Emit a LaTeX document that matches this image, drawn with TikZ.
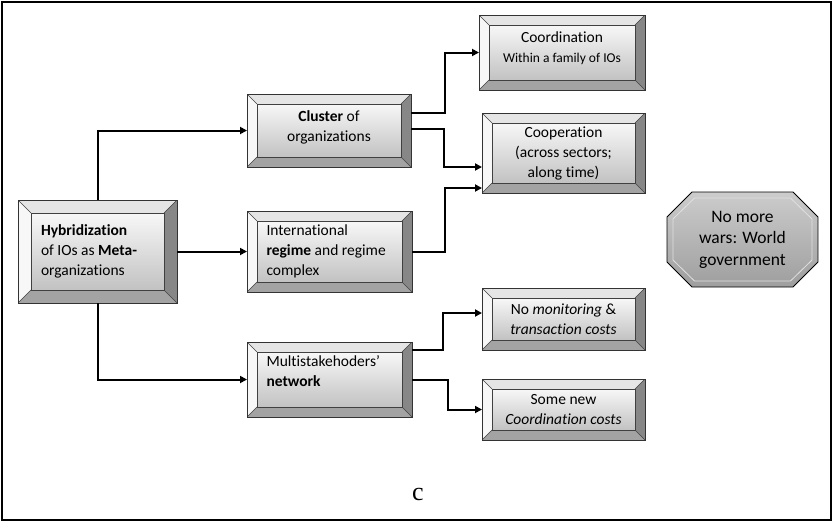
\documentclass[tikz,border=0pt]{standalone}
\usepackage{fontspec}
\usepackage{tikz}
\usetikzlibrary{arrows.meta,backgrounds}
\newfontfamily\calib[Ligatures=NoCommon]{Carlito}
\newfontfamily\timesc{Liberation Serif}

\begin{document}
\begin{tikzpicture}[x=1pt, y=-1pt,
	every node/.style={font=\calib\fontsize{15.5}{20}\selectfont},
	arr/.style={-{Triangle[length=7pt,width=7pt]}, line width=2pt},
	bev/.style={rectangle, draw=black!80, line width=.6pt, align=center, inner sep=0pt, outer sep=0pt,
		path picture={
			\path (path picture bounding box.north west) coordinate (tl) (path picture bounding box.north east) coordinate (tr)
				(path picture bounding box.south west) coordinate (bl) (path picture bounding box.south east) coordinate (br);
			\fill[black!10] (tl) -- (tr) -- ([shift={(-#1,-#1)}]tr) -- ([shift={(#1,-#1)}]tl) -- cycle;
			\fill[black!3] (tl) -- ([shift={(#1,-#1)}]tl) -- ([shift={(#1,#1)}]bl) -- (bl) -- cycle;
			\fill[black!47] (tr) -- (br) -- ([shift={(-#1,#1)}]br) -- ([shift={(-#1,-#1)}]tr) -- cycle;
			\fill[black!36] (bl) -- ([shift={(#1,#1)}]bl) -- ([shift={(-#1,#1)}]br) -- (br) -- cycle;
			\shade[top color=black!3, bottom color=black!24, draw=black!75, line width=.5pt] ([shift={(#1,-#1)}]tl) rectangle ([shift={(-#1,#1)}]br);
			\draw[black!75, line width=.5pt] (tl) -- ([shift={(#1,-#1)}]tl) (tr) -- ([shift={(-#1,-#1)}]tr)
				(bl) -- ([shift={(#1,#1)}]bl) (br) -- ([shift={(-#1,#1)}]br);
		}},
	bev/.default=10pt]
	\useasboundingbox (0,0) rectangle (833,522);
	\draw[line width=2pt] (2,2) rectangle (831,520);

	\node[bev=13pt, minimum width=159pt, minimum height=103pt, text width=113pt, align=flush left] (hyb) at (97.5,251.5) {\textbf{Hybridization}\\of IOs as \textbf{Meta-}\\organizations};
	\node[bev, minimum width=164pt, minimum height=73pt] (cluster) at (329,130.5) {\textbf{Cluster} of\\organizations\\[-12pt]\mbox{}};
	\node[bev, minimum width=165pt, minimum height=81pt, text width=126pt, align=flush left] (regime) at (329.5,251.5) {International\\\textbf{regime} and regime\\complex};
	\node[bev, minimum width=165pt, minimum height=75pt, text width=126pt, align=flush left] (multi) at (329.5,379.5) {Multistakehoders’\\\textbf{network}\\[-4pt]\mbox{}};
	\node[bev, minimum width=166pt, minimum height=75pt] (coord) at (562,52.5) {Coordination\\{\fontsize{13.5}{16}\selectfont Within a family of IOs}\\[-10pt]\mbox{}};
	\node[bev, minimum width=163pt, minimum height=80pt] (coop) at (563.5,153) {Cooperation\\(across sectors;\\along time)};
	\node[bev, minimum width=163pt, minimum height=62pt] (monit) at (563.5,319) {No \textit{monitoring} \&\\\textit{transaction costs}};
	\node[bev, minimum width=163pt, minimum height=61pt] (cost) at (563.5,409.5) {Some new\\\textit{Coordination costs}};
	\node[minimum width=151pt, minimum height=95pt, inner sep=0pt, outer sep=0pt, align=center, font=\calib\fontsize{17.5}{21.5}\selectfont] (world) at (742.5,239.5) {No more\\wars: World\\government};
	\begin{scope}[on background layer]
		\shade[top color=black!20, bottom color=black!38, draw=black, line width=.8pt]
			([xshift=-50.5pt]world.north) -- ([xshift=50.5pt]world.north) -- ([yshift=-25pt]world.north east) -- ([yshift=25pt]world.south east)
			-- ([xshift=50.5pt]world.south) -- ([xshift=-50.5pt]world.south) -- ([yshift=25pt]world.south west) -- ([yshift=-25pt]world.north west) -- cycle;
		\draw[black!12, line width=.8pt]
			([shift={(-48pt,-6pt)}]world.north) -- ([shift={(48pt,-6pt)}]world.north) -- ([shift={(-6pt,-27pt)}]world.north east) -- ([shift={(-6pt,27pt)}]world.south east)
			-- ([shift={(48pt,6pt)}]world.south) -- ([shift={(-48pt,6pt)}]world.south) -- ([shift={(6pt,27pt)}]world.south west) -- ([shift={(6pt,-27pt)}]world.north west) -- cycle;
	\end{scope}
	\node[font=\timesc\fontsize{26}{28}\selectfont] (cap) at (418,494) {c};

	\draw[arr] (hyb.north) |- (cluster.west);
	\draw[arr] (hyb.east) -- (regime.west);
	\draw[arr] (hyb.south) |- (multi.west);
	\draw[arr] ([yshift=17.5pt]cluster.east) -- ++(34,0) |- (coord.west);
	\draw[arr] ([yshift=1.5pt]cluster.east) -- ++(33,0) |- ([yshift=-14pt]coop.west);
	\draw[arr] (regime.east) -- ++(33,0) |- ([yshift=-35pt]coop.west);
	\draw[arr] ([yshift=29.5pt]multi.east) -- ++(31,0) |- ([yshift=6pt]monit.west);
	\draw[arr] (multi.east) -- ++(36,0) |- (cost.west);
\end{tikzpicture}
\end{document}
